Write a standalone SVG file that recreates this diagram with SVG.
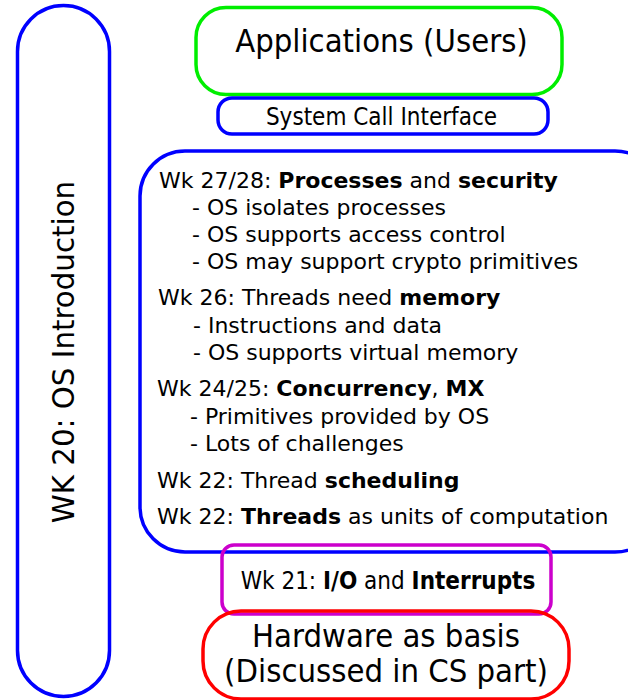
<svg xmlns="http://www.w3.org/2000/svg" width="628" height="700" viewBox="0 0 628 700">
<style>
.box{fill:#fff;stroke-width:3.5}
.t{font-family:"DejaVu Sans","Liberation Sans",sans-serif;fill:#000}
.c{font-family:"DejaVu Sans Condensed","DejaVu Sans","Liberation Sans",sans-serif;fill:#000}
.b{font-weight:bold}
</style>
<rect width="628" height="700" fill="#fff"/>
<g id="intro">
<rect class="box" x="17.5" y="5.5" width="92" height="691" rx="46" ry="46" stroke="#0000ff"/>
<text class="t" font-size="29.3" transform="translate(74,352) rotate(-90)" text-anchor="middle">WK 20: OS Introduction</text>
</g>
<g id="apps">
<rect class="box" x="196" y="7.5" width="366" height="87" rx="30" ry="30" stroke="#00ee00"/>
<text class="c" font-size="32.5" x="381.5" y="52" text-anchor="middle">Applications (Users)</text>
</g>
<g id="syscall">
<rect class="box" x="218" y="98" width="330" height="36" rx="14" ry="14" stroke="#0000ff"/>
<text class="c" font-size="24" x="381.5" y="124.5" text-anchor="middle">System Call Interface</text>
</g>
<g id="os">
<rect class="box" x="140" y="151" width="520" height="401" rx="45" ry="45" stroke="#0000ff"/>
<text class="t" font-size="22">
<tspan x="159" y="188">Wk 27/28: <tspan class="b">Processes</tspan> and <tspan class="b">security</tspan></tspan>
<tspan x="192" y="215">- OS isolates processes</tspan>
<tspan x="192" y="242">- OS supports access control</tspan>
<tspan x="192" y="269">- OS may support crypto primitives</tspan>
<tspan x="158" y="305">Wk 26: Threads need <tspan class="b">memory</tspan></tspan>
<tspan x="193" y="333">- Instructions and data</tspan>
<tspan x="193" y="360">- OS supports virtual memory</tspan>
<tspan x="157" y="396">Wk 24/25: <tspan class="b">Concurrency</tspan>, <tspan class="b">MX</tspan></tspan>
<tspan x="190" y="424">- Primitives provided by OS</tspan>
<tspan x="190" y="451">- Lots of challenges</tspan>
<tspan x="157" y="488">Wk 22: Thread <tspan class="b">scheduling</tspan></tspan>
<tspan x="157" y="524">Wk 22: <tspan class="b">Threads</tspan> as units of computation</tspan>
</text>
</g>
<g id="io">
<rect x="222" y="545" width="329" height="69" rx="12" ry="12" fill="none" stroke="#cc00cc" stroke-width="3.5"/>
<text class="c" font-size="24" x="388" y="588.5" text-anchor="middle">Wk 21: <tspan class="b">I/O</tspan> and <tspan class="b">Interrupts</tspan></text>
</g>
<g id="hw">
<rect x="203" y="611" width="366" height="88" rx="38" ry="38" fill="none" stroke="#ff0000" stroke-width="3.5"/>
<text class="c" font-size="32.5" text-anchor="middle"><tspan x="386" y="647">Hardware as basis</tspan><tspan x="386" y="682">(Discussed in CS part)</tspan></text>
</g>
<g id="connectors"/>
</svg>
